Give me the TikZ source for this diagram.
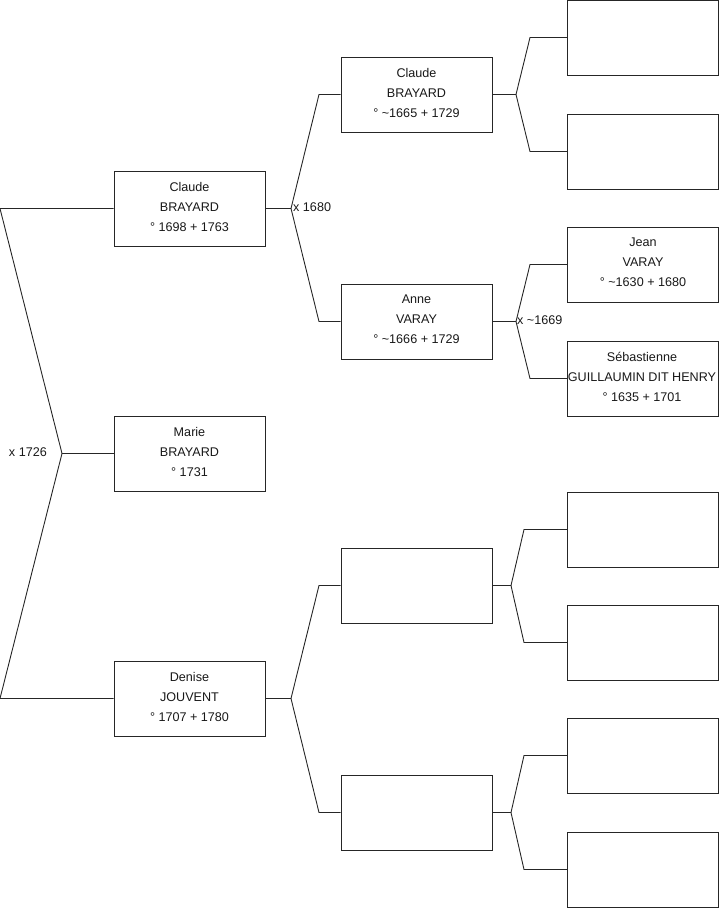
\documentclass[tikz,border=0pt]{standalone}
\usepackage{fontspec}
\setmainfont{Liberation Sans}
\begin{document}
\begin{tikzpicture}[x=1pt,y=-1pt,
  box/.style={draw=black!85,line width=0.9pt,rectangle,minimum width=151pt,minimum height=75pt,inner sep=0pt,fill=white},
  txt/.style={align=center,font=\fontsize{12.6}{20}\selectfont,inner sep=0pt,text=black!90},
  lnk/.style={draw=black!85,line width=0.9pt},
  mar/.style={font=\fontsize{12.6}{15}\selectfont,inner sep=0pt,text=black!90}]
\useasboundingbox (0,0) rectangle (719,908);
% generation 1
\node[box] (a1) at (189.5,208.5) {};
\node[box] (a2) at (189.5,453.5) {};
\node[box] (a3) at (189.5,698.5) {};
% generation 2
\node[box] (b1) at (416.5,94.5) {};
\node[box] (b2) at (416.5,321.5) {};
\node[box] (b3) at (416.5,585.5) {};
\node[box] (b4) at (416.5,812.5) {};
% generation 3
\node[box] (c1) at (643,37.5) {};
\node[box] (c2) at (643,151.5) {};
\node[box] (c3) at (643,264.5) {};
\node[box] (c4) at (643,378.5) {};
\node[box] (c5) at (643,529.5) {};
\node[box] (c6) at (643,642.5) {};
\node[box] (c7) at (643,755.5) {};
\node[box] (c8) at (643,869.5) {};
% forks
\coordinate (f0) at (62,453.5);
\coordinate (k0a) at (0,208.5);
\coordinate (k0b) at (0,698.5);
\coordinate (f1) at (291,208.5);
\coordinate (k1a) at (319,94.5);
\coordinate (k1b) at (319,321.5);
\coordinate (f2) at (291,698.5);
\coordinate (k2a) at (319,585.5);
\coordinate (k2b) at (319,812.5);
\coordinate (f3) at (516,94.5);
\coordinate (k3a) at (530,37.5);
\coordinate (k3b) at (530,151.5);
\coordinate (f4) at (516,321.5);
\coordinate (k4a) at (530,264.5);
\coordinate (k4b) at (530,378.5);
\coordinate (f5) at (511,585.5);
\coordinate (k5a) at (524,529.5);
\coordinate (k5b) at (524,642.5);
\coordinate (f6) at (511,812.5);
\coordinate (k6a) at (524,755.5);
\coordinate (k6b) at (524,869.5);
% connectors
\draw[lnk] (a1.west) -- (k0a) -- (f0) -- (k0b) -- (a3.west);
\draw[lnk] (f0) -- (a2.west);
\draw[lnk] (a1.east) -- (f1);
\draw[lnk] (b1.west) -- (k1a) -- (f1) -- (k1b) -- (b2.west);
\draw[lnk] (a3.east) -- (f2);
\draw[lnk] (b3.west) -- (k2a) -- (f2) -- (k2b) -- (b4.west);
\draw[lnk] (b1.east) -- (f3);
\draw[lnk] (c1.west) -- (k3a) -- (f3) -- (k3b) -- (c2.west);
\draw[lnk] (b2.east) -- (f4);
\draw[lnk] (c3.west) -- (k4a) -- (f4) -- (k4b) -- (c4.west);
\draw[lnk] (b3.east) -- (f5);
\draw[lnk] (c5.west) -- (k5a) -- (f5) -- (k5b) -- (c6.west);
\draw[lnk] (b4.east) -- (f6);
\draw[lnk] (c7.west) -- (k6a) -- (f6) -- (k6b) -- (c8.west);
% texts
\node[txt] (ta1) at ([yshift=2pt]a1) {Claude\\BRAYARD\\° 1698 + 1763};
\node[txt] (ta2) at ([yshift=2pt]a2) {Marie\\BRAYARD\\° 1731};
\node[txt] (ta3) at ([yshift=2pt]a3) {Denise\\JOUVENT\\° 1707 + 1780};
\node[txt] (tb1) at ([yshift=2pt]b1) {Claude\\BRAYARD\\° \textasciitilde 1665 + 1729};
\node[txt] (tb2) at ([yshift=2pt]b2) {Anne\\VARAY\\° \textasciitilde 1666 + 1729};
\node[txt] (tc3) at ([yshift=2pt]c3) {Jean\\VARAY\\° \textasciitilde 1630 + 1680};
\node[txt] (tc4) at ([xshift=-1pt,yshift=2pt]c4) {Sébastienne\\GUILLAUMIN DIT HENRY\\° 1635 + 1701};
% marriage labels
\node[mar,anchor=east] (m0) at (47,452) {x 1726};
\node[mar,anchor=west] (m1) at (293,207.5) {x 1680};
\node[mar,anchor=west] (m4) at (517,320.5) {x \textasciitilde 1669};
\end{tikzpicture}
\end{document}
